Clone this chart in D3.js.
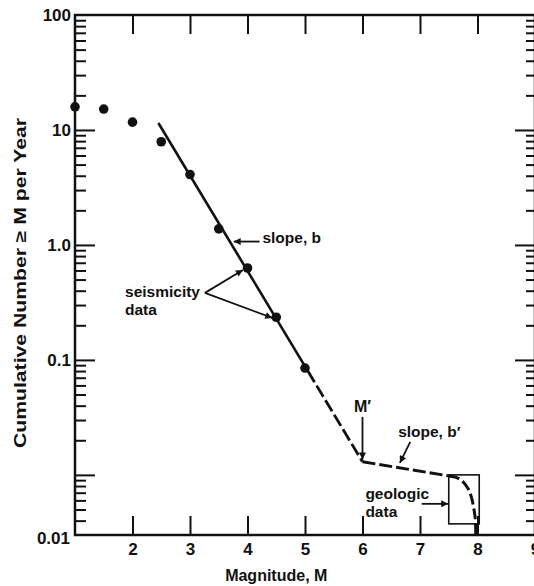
<!DOCTYPE html>
<html>
<head>
<meta charset="utf-8">
<script src="https://cdn.jsdelivr.net/npm/d3@7"></script>
<style>
  html, body { margin: 0; padding: 0; background: #fff; }
  svg { display: block; }
  text { font-family: "Liberation Sans", Arial, Helvetica, sans-serif; font-weight: bold; fill: #111; }
</style>
</head>
<body>
<svg id="chart" width="534" height="586"></svg>
<script>
// Seismicity observations: cumulative annual rate of events with magnitude >= M
const magnitudes = [1.0, 1.5, 2.0, 2.5, 3.0, 3.5, 4.0, 4.5, 5.0];
const cumulativeRates = [15.9, 15.2, 11.7, 7.9, 4.1, 1.38, 0.63, 0.235, 0.085];

// Gutenberg-Richter fit (slope b): solid part, then dashed extrapolation to M'
const fitSolidM = [2.45, 5.05];
const fitSolidN = [11.5, 0.080];
const fitDashedM = [5.05, 6.0];
const fitDashedN = [0.080, 0.013];

// Large-magnitude branch (slope b') from M' to the geologic bound
const upperM = [6.0, 7.5];
const upperN = [0.013, 0.0098];

// Roll-off constrained by geologic data
const geologicM = [7.5, 7.63, 7.74, 7.83, 7.89, 7.93, 7.96, 7.97];
const geologicN = [0.0098, 0.0095, 0.0088, 0.0077, 0.0065, 0.0053, 0.0042, 0.0030];

// Geologic data window
const geologicBoxM = [7.5, 8.03];
const geologicBoxN = [0.00375, 0.01];

// Axes
const xDomain = [1, 9];
const yDomain = [0.003, 100];
const xTickValues = [2, 3, 4, 5, 6, 7, 8];
const xTickLabels = [2, 3, 4, 5, 6, 7, 8, 9];
const yTickValues = [100, 10, 1, 0.1];
const yTickLabels = ["100", "10", "1.0", "0.1"];
const yFloorLabel = "0.01";

const svg = d3.select("#chart");
const x = d3.scaleLinear().domain(xDomain).range([75, 535]);
const y = d3.scaleLog().domain(yDomain).range([535, 15]);

const pts = (ms, ns) => ms.map((m, i) => ({ m, n: ns[i] }));
const line = d3.line().x(d => x(d.m)).y(d => y(d.n));

// Arrowhead marker
svg.append("defs").append("marker")
  .attr("id", "arrow")
  .attr("viewBox", "0 0 10 10")
  .attr("refX", 10).attr("refY", 5)
  .attr("markerWidth", 10).attr("markerHeight", 7)
  .attr("markerUnits", "userSpaceOnUse")
  .attr("orient", "auto")
  .append("path").attr("d", "M0,0L10,5L0,10Z").attr("fill", "#111");

// ---- axes and ticks ----
const allY = y.ticks().filter(v => v > yDomain[0] * 1.001 && v < yDomain[1] * 0.999);
const isDecade = v => Math.abs(Math.log10(v) - Math.round(Math.log10(v))) < 1e-6;
const minorY = allY.filter(v => !isDecade(v));
const majorY = allY.filter(isDecade);

function styleAxis(g) {
  g.select(".domain").remove();
  g.selectAll(".tick line").attr("stroke", "#111").attr("stroke-width", 2);
  g.selectAll("text").attr("font-size", 17).attr("fill", "#111")
    .attr("font-family", "'Liberation Sans', Arial, sans-serif").attr("font-weight", "bold");
}

// left
svg.append("g").attr("transform", `translate(${x(xDomain[0])},0)`)
  .call(d3.axisLeft(y).tickValues(minorY).tickSize(-11).tickFormat(""))
  .call(styleAxis);
svg.append("g").attr("transform", `translate(${x(xDomain[0])},0)`)
  .call(d3.axisLeft(y).tickValues(majorY).tickSize(-20).tickFormat(""))
  .call(styleAxis);
svg.append("g").attr("transform", `translate(${x(xDomain[0])},0)`)
  .call(d3.axisLeft(y).tickValues(yTickValues).tickSize(0).tickPadding(4)
    .tickFormat((d, i) => yTickLabels[i]))
  .call(styleAxis);
svg.append("text")
  .attr("x", x(xDomain[0]) - 5).attr("y", y(yDomain[0]) + 9)
  .attr("text-anchor", "end").attr("font-size", 17).text(yFloorLabel);

// right
svg.append("g").attr("transform", `translate(${x(xDomain[1])},0)`)
  .call(d3.axisRight(y).tickValues(minorY).tickSize(-9).tickFormat(""))
  .call(styleAxis);
svg.append("g").attr("transform", `translate(${x(xDomain[1])},0)`)
  .call(d3.axisRight(y).tickValues(majorY).tickSize(-20).tickFormat(""))
  .call(styleAxis);

// bottom
svg.append("g").attr("transform", `translate(0,${y(yDomain[0])})`)
  .call(d3.axisBottom(x).tickValues(xTickValues).tickSize(-19).tickFormat(""))
  .call(styleAxis);
svg.append("g").attr("transform", `translate(0,${y(yDomain[0])})`)
  .call(d3.axisBottom(x).tickValues(xTickLabels).tickSize(0).tickPadding(8).tickFormat(d3.format("d")))
  .call(styleAxis);

// top
svg.append("g").attr("transform", `translate(0,${y(yDomain[1])})`)
  .call(d3.axisTop(x).tickValues(xTickValues).tickSize(-19).tickFormat(""))
  .call(styleAxis);

// frame
svg.append("rect")
  .attr("x", x(xDomain[0])).attr("y", y(yDomain[1]))
  .attr("width", x(xDomain[1]) - x(xDomain[0]))
  .attr("height", y(yDomain[0]) - y(yDomain[1]))
  .attr("fill", "none").attr("stroke", "#111").attr("stroke-width", 2.5);

// axis titles
svg.append("text")
  .attr("x", x(4.5)).attr("y", 581)
  .attr("text-anchor", "middle").attr("font-size", 16)
  .text("Magnitude, M");
svg.append("text")
  .attr("transform", "translate(26,283) rotate(-90)")
  .attr("text-anchor", "middle").attr("font-size", 16)
  .attr("textLength", 330).attr("lengthAdjust", "spacingAndGlyphs")
  .text("Cumulative Number \u2265 M per Year");

// ---- curves ----
svg.append("path").datum(pts(fitSolidM, fitSolidN))
  .attr("d", line).attr("fill", "none").attr("stroke", "#111").attr("stroke-width", 2.6);
svg.append("path").datum(pts(fitDashedM, fitDashedN))
  .attr("d", line).attr("fill", "none").attr("stroke", "#111").attr("stroke-width", 2.8)
  .attr("stroke-dasharray", "13,4");
svg.append("path").datum(pts(upperM, upperN))
  .attr("d", line).attr("fill", "none").attr("stroke", "#111").attr("stroke-width", 3)
  .attr("stroke-dasharray", "13,4");
svg.append("path").datum(pts(geologicM, geologicN))
  .attr("d", line.curve(d3.curveCatmullRom)).attr("fill", "none").attr("stroke", "#111")
  .attr("stroke-width", 3).attr("stroke-dasharray", "11,4");
line.curve(d3.curveLinear);

// geologic data window
svg.append("rect")
  .attr("x", x(geologicBoxM[0])).attr("y", y(geologicBoxN[1]))
  .attr("width", x(geologicBoxM[1]) - x(geologicBoxM[0]))
  .attr("height", y(geologicBoxN[0]) - y(geologicBoxN[1]))
  .attr("fill", "none").attr("stroke", "#111").attr("stroke-width", 1.6);

// seismicity points
svg.selectAll("circle.obs").data(pts(magnitudes, cumulativeRates)).join("circle")
  .attr("class", "obs")
  .attr("cx", d => x(d.m)).attr("cy", d => y(d.n)).attr("r", 4.8).attr("fill", "#111");

// ---- annotations ----
function arrow(m1, n1, m2, n2) {
  svg.append("line")
    .attr("x1", x(m1)).attr("y1", y(n1)).attr("x2", x(m2)).attr("y2", y(n2))
    .attr("stroke", "#111").attr("stroke-width", 1.8).attr("marker-end", "url(#arrow)");
}
function label(m, n, lines, anchor = "start", size = 15.5) {
  const t = svg.append("text").attr("x", x(m)).attr("y", y(n))
    .attr("text-anchor", anchor).attr("font-size", size);
  lines.forEach((s, i) => t.append("tspan").attr("x", x(m)).attr("dy", i ? 18 : 0).text(s));
}

label(4.26, 1.04, ["slope, b"]);
arrow(4.21, 1.07, 3.76, 1.07);

label(1.87, 0.353, ["seismicity", "data"]);
arrow(3.26, 0.383, 3.92, 0.606);
arrow(3.26, 0.383, 4.43, 0.232);

label(6.0, 0.0353, ["M\u2032"], "middle", 16);
arrow(6.0, 0.0319, 6.0, 0.0136);

label(6.62, 0.0214, ["slope, b\u2032"]);
arrow(6.83, 0.0194, 6.65, 0.0127);

label(6.05, 0.0062, ["geologic", "data"]);
arrow(7.03, 0.0056, 7.49, 0.0056);
</script>
</body>
</html>
